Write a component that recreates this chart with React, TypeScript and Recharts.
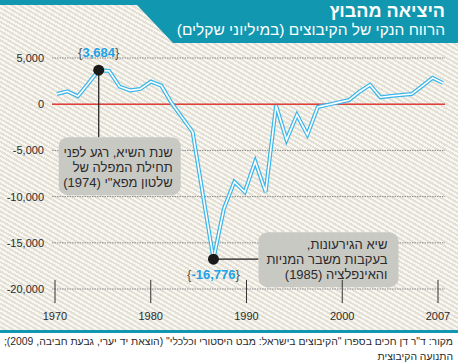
import {
  LineChart,
  Line,
  XAxis,
  YAxis,
  CartesianGrid,
  ReferenceLine,
  ReferenceDot,
} from "recharts";

// net profit of the kibbutzim, millions of shekels
const YEARS = [
  1970, 1971, 1972, 1973, 1974, 1975, 1976, 1977, 1978, 1979,
  1980, 1981, 1982, 1983, 1984, 1985, 1986, 1987, 1988, 1989,
  1990, 1991, 1992, 1993, 1994, 1995, 1996, 1997, 1998, 1999,
  2000, 2001, 2002, 2003, 2004, 2005, 2006, 2007,
];
const PROFIT = [
  1100, 1400, 850, 2250, 3684, 3600, 1900, 1500, 1650, 2450,
  2000, 100, -1450, -3000, -9900, -16776, -11300, -8400, -9500, -6200,
  -9500, -150, -3850, -1150, -3300, -300, -50, 200, 450, 1350,
  2100, 750, 880, 1000, 1100, 1950, 2850, 2300,
];
const Y_TICKS = [5000, 0, -5000, -10000, -15000, -20000];
const X_TICK_LABELS = ["1970", "1980", "1990", "2000", "2007"];

const TITLE = "היציאה מהבוץ";
const SUBTITLE = "הרווח הנקי של הקיבוצים (במיליוני שקלים)";
const SOURCE_1 = 'מקור: ד"ר דן חכים בספרו "הקיבוצים בישראל: מבט היסטורי וכלכלי" (הוצאת יד יערי, גבעת חביבה, 2009);';
const SOURCE_2 = "התנועה הקיבוצית";
const PEAK_NOTE = ["שנת השיא, רגע לפני", "תחילת המפלה של", 'שלטון מפא"י (1974)'];
const LOW_NOTE = ["שיא הגירעונות,", "בעקבות משבר המניות", "והאינפלציה (1985)"];

const data = YEARS.map((year, i) => ({ year, value: PROFIT[i] }));
const peak = data.reduce((a, b) => (b.value > a.value ? b : a));
const low = data.reduce((a, b) => (b.value < a.value ? b : a));

const FONT = '"Liberation Sans", Arial, sans-serif';
const TEAL = "#1297b0";
const LINE_BLUE = "#3ab6ea";
const VALUE_BLUE = "#1ea2e6";
const BOX = "#c9c9c4";
const INK = "#2b2b2b";

const fmt = (v: number) => v.toLocaleString("en-US");

function YearTick({ x, y, payload }: any) {
  return (
    <g>
      <line x1={x} x2={x} y1={y - 9} y2={y + 14} stroke="#333" strokeWidth={1} />
      <text x={x} y={y + 31} textAnchor="middle" fontSize={11} fill={INK} fontFamily={FONT}>
        {X_TICK_LABELS[payload.value]}
      </text>
    </g>
  );
}

function ValueLabel({ x, y, value }: { x: number; y: number; value: number }) {
  return (
    <text x={x} y={y} textAnchor="middle" fontSize={13} fontFamily={FONT}>
      <tspan fill="#555">{"{"}</tspan>
      <tspan fill={VALUE_BLUE} fontWeight="bold">{fmt(value)}</tspan>
      <tspan fill="#555">{"}"}</tspan>
    </text>
  );
}

function NoteText({ lines, x, y }: { lines: string[]; x: number; y: number }) {
  return (
    <>
      {lines.map((t, i) => (
        <text
          key={i}
          x={x}
          y={y + i * 15}
          direction="rtl"
          textAnchor="start"
          fontSize={13}
          fill={INK}
          fontFamily={FONT}
        >
          {t}
        </text>
      ))}
    </>
  );
}

function PeakMarker({ cx, cy }: any) {
  return (
    <g>
      <line x1={cx} x2={cx} y1={cy} y2={cy + 67} stroke="#1a1a1a" strokeWidth={1.2} />
      <rect x={cx - 40} y={cy + 67} width={122} height={58} rx={9} fill={BOX} />
      <NoteText lines={PEAK_NOTE} x={cx + 74} y={cy + 87} />
      <circle cx={cx} cy={cy} r={5.5} fill="#1a1a1a" />
      <ValueLabel x={cx} y={cy - 13} value={peak.value} />
    </g>
  );
}

function LowMarker({ cx, cy }: any) {
  return (
    <g>
      <line x1={cx} x2={cx + 45} y1={cy} y2={cy} stroke="#1a1a1a" strokeWidth={1.2} />
      <rect x={cx + 45} y={cy - 27} width={140} height={55} rx={9} fill={BOX} />
      <NoteText lines={LOW_NOTE} x={cx + 174} y={cy - 10} />
      <circle cx={cx} cy={cy} r={5.5} fill="#1a1a1a" />
      <ValueLabel x={cx} y={cy + 20} value={low.value} />
    </g>
  );
}

export default function App() {
  return (
    <div
      style={{
        position: "absolute",
        left: 0,
        top: 0,
        width: 458,
        height: 363,
        background: "#fff",
        fontFamily: FONT,
        overflow: "hidden",
      }}
    >
      <div
        style={{
          position: "absolute",
          left: 0,
          top: 0,
          width: 458,
          height: 330,
          background:
            "repeating-linear-gradient(30deg, #f8f7f3 0px, #f8f7f3 2px, #e3dfd3 2px, #e3dfd3 4px)",
        }}
      />
      <div style={{ position: "absolute", left: 0, top: 0 }}>
        <LineChart
          width={458}
          height={330}
          data={data}
          margin={{ top: 58, right: 13, left: 0, bottom: 0 }}
        >
          <CartesianGrid
            xAxisId="years"
            vertical={false}
            stroke="#8a8a8a"
            strokeDasharray="1.5 1"
          />
          <XAxis
            xAxisId="years"
            dataKey="year"
            type="number"
            domain={[1970, 2007]}
            padding={{ left: 5, right: 2 }}
            hide
          />
          {/* label axis: the printed year ticks are evenly spaced, not aligned to the data */}
          <XAxis
            xAxisId="labels"
            dataKey={() => 0}
            type="number"
            domain={[0, X_TICK_LABELS.length - 1]}
            ticks={X_TICK_LABELS.map((_, i) => i)}
            allowDataOverflow
            padding={{ left: 3, right: 7 }}
            height={41}
            axisLine={false}
            tickLine={false}
            tickSize={0}
            tickMargin={0}
            tick={<YearTick />}
          />
          <YAxis
            domain={[-20000, 5000]}
            ticks={Y_TICKS}
            width={52}
            axisLine={false}
            tickLine={false}
            tickFormatter={fmt}
            tick={{ fontSize: 11, fill: INK, fontFamily: FONT }}
          />
          <ReferenceLine xAxisId="years" y={0} stroke="#e2403a" strokeWidth={1.5} />
          <Line
            xAxisId="years"
            dataKey="value"
            type="linear"
            stroke={LINE_BLUE}
            strokeWidth={4}
            dot={false}
            isAnimationActive={false}
          />
          <Line
            xAxisId="years"
            dataKey="value"
            type="linear"
            stroke="#ffffff"
            strokeWidth={1.6}
            dot={false}
            isAnimationActive={false}
          />
          <ReferenceDot
            xAxisId="years"
            x={peak.year}
            y={peak.value}
            r={5}
            shape={(p: any) => <PeakMarker {...p} />}
          />
          <ReferenceDot
            xAxisId="years"
            x={low.year}
            y={low.value}
            r={5}
            shape={(p: any) => <LowMarker {...p} />}
          />
        </LineChart>
      </div>
      <svg
        width={458}
        height={44}
        style={{ position: "absolute", left: 0, top: 0 }}
      >
        <polygon points="0,0 458,0 458,43 173,43 137,5 0,5" fill={TEAL} />
      </svg>
      <div
        dir="rtl"
        style={{
          position: "absolute",
          right: 13,
          top: 1,
          color: "#fff",
          fontSize: 18,
          fontWeight: "bold",
          lineHeight: "20px",
          whiteSpace: "nowrap",
        }}
      >
        {TITLE}
      </div>
      <div
        dir="rtl"
        style={{
          position: "absolute",
          right: 13,
          top: 21,
          color: "#fff",
          fontSize: 15.5,
          lineHeight: "17px",
          whiteSpace: "nowrap",
        }}
      >
        {SUBTITLE}
      </div>
      <div
        style={{
          position: "absolute",
          left: 0,
          top: 330,
          width: 458,
          height: 3,
          background: TEAL,
        }}
      />
      <div
        dir="rtl"
        style={{
          position: "absolute",
          right: 5,
          top: 334,
          color: INK,
          fontSize: 10.4,
          lineHeight: "15px",
          whiteSpace: "nowrap",
        }}
      >
        {SOURCE_1}
        <br />
        {SOURCE_2}
      </div>
    </div>
  );
}
